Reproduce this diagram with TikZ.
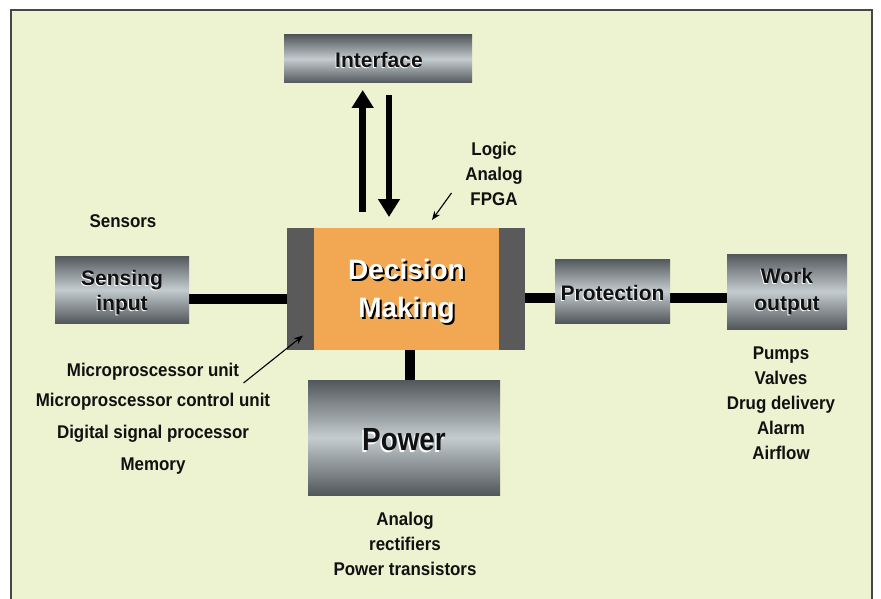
\documentclass[tikz,border=0pt]{standalone}
\usepackage{fontspec}
\setmainfont{Liberation Sans}
\newfontfamily\notefont{Liberation Sans}[FakeStretch=0.92]
\newfontfamily\widelabelfont{Liberation Sans}[FakeStretch=0.87]
\usetikzlibrary{arrows.meta,calc}

\definecolor{paper}{HTML}{EDF2D0}
\definecolor{framegray}{HTML}{474747}
\definecolor{coreorange}{HTML}{F2A852}
\definecolor{sidegray}{HTML}{5A5A5A}
\definecolor{metaldark}{HTML}{52575B}
\definecolor{metallight}{HTML}{C4CCD0}
\definecolor{ink}{HTML}{111111}

\tikzset{
  metal/.style={rectangle, inner sep=0pt, top color=metaldark, bottom color=metaldark, middle color=metallight},
  boxlabel/.style={font=\bfseries\fontsize{21}{25}\selectfont, text=ink, align=center, inner sep=0pt},
  boxglow/.style={boxlabel, text=white},
  note/.style={font=\notefont\bfseries\fontsize{18.4}{25}\selectfont, text=ink, align=center, inner sep=0pt},
  bus/.style={line width=10pt, black},
  bigarrow/.style={line width=6.5pt, black, -{Triangle[width=21pt,length=18pt]}},
  pointer/.style={line width=1.1pt, black, -{Stealth[width=7pt,length=9pt]}},
}

\begin{document}
\begin{tikzpicture}[x=1pt,y=-1pt]
\useasboundingbox (0,0) rectangle (881,599);

% panel and its open-bottom frame
\fill[paper] (10,9) rectangle (873,599);
\draw[framegray, line width=2pt] (11,599) -- (11,10) -- (872,10) -- (872,599);

% connectors (behind the blocks)
\draw[bus] (189,298.5) -- (287,298.5);
\draw[bus] (524,298) -- (555,298);
\draw[bus] (670,298) -- (727,298);
\draw[bus] (409.7,350) -- (409.7,380);

% metal blocks
\node[metal, minimum width=188pt, minimum height=48pt] (iface) at (378,59) {};
\node[metal, minimum width=134pt, minimum height=67pt] (sense) at (122,289.5) {};
\node[metal, minimum width=115pt, minimum height=64pt] (prot) at (612.5,291) {};
\node[metal, minimum width=120pt, minimum height=75pt] (work) at (787,291.5) {};
\node[metal, minimum width=192pt, minimum height=115pt] (power) at (404,437.5) {};

% decision block: dark side bars with an orange core
\node[rectangle, fill=sidegray, minimum width=238pt, minimum height=122pt, inner sep=0pt] (decide) at (405.5,289) {};
\node[rectangle, fill=coreorange, minimum width=185pt, minimum height=122pt, inner sep=0pt] (core) at (406.5,289) {};

% label positions inside the blocks
\coordinate (ifacec) at (379,60);
\coordinate (sensec) at (122,293);
\coordinate (protc) at (612.5,293);
\coordinate (workc) at (787,291.5);
\coordinate (powerc) at (404,440);
\coordinate (corec) at (406.5,291);

% labels with a light offset copy behind them
\node[boxglow] (ifaceg) at ($(ifacec)+(-0.9,1)$) {Interface};
\node[boxlabel] (ifacet) at (ifacec) {Interface};
\node[boxglow] (senseg) at ($(sensec)+(-0.9,1)$) {Sensing\\input};
\node[boxlabel] (senset) at (sensec) {Sensing\\input};
\node[boxglow] (protg) at ($(protc)+(-0.9,1)$) {Protection};
\node[boxlabel] (prott) at (protc) {Protection};
\node[boxglow, font=\bfseries\fontsize{21}{27}\selectfont] (workg) at ($(workc)+(-0.9,1)$) {Work\\output};
\node[boxlabel, font=\bfseries\fontsize{21}{27}\selectfont] (workt) at (workc) {Work\\output};
\node[boxglow, font=\widelabelfont\bfseries\fontsize{32}{36}\selectfont] (powerg) at ($(powerc)+(-1.5,1.8)$) {Power};
\node[boxlabel, font=\widelabelfont\bfseries\fontsize{32}{36}\selectfont] (powert) at (powerc) {Power};
\node[boxlabel, text=black, font=\bfseries\fontsize{28}{38}\selectfont] (decideg) at ($(corec)+(2,2)$) {Decision\\Making};
\node[boxlabel, text=white, font=\bfseries\fontsize{28}{38}\selectfont] (decidet) at (corec) {Decision\\Making};

% interface traffic
\coordinate (upfoot) at (362.7,212);
\coordinate (downtip) at (389,217);
\draw[bigarrow] (upfoot) -- (362.7,90);
\draw[bigarrow] (389,95) -- (downtip);

% annotations
\node[note] (sensors) at (123,221) {Sensors};
\node[note] (logic) at (494,174) {Logic\\Analog\\FPGA};
\node[note] (mpu) at (153,372) {Microproscessor unit};
\node[note] (mcu) at (153,402) {Microproscessor control unit};
\node[note] (dsp) at (153,434) {Digital signal processor};
\node[note] (mem) at (153,466) {Memory};
\node[note] (outs) at (781,403.5) {Pumps\\Valves\\Drug delivery\\Alarm\\Airflow};
\node[note] (pwrparts) at (405,544) {Analog\\rectifiers\\Power transistors};

\coordinate (logictail) at (451.5,193);
\coordinate (logictip) at (432,220);
\draw[pointer] (logictail) -- (logictip);
\coordinate (mputail) at (243.5,383);
\coordinate (mputip) at (303,335.5);
\draw[pointer] (mputail) -- (mputip);
\end{tikzpicture}
\end{document}
